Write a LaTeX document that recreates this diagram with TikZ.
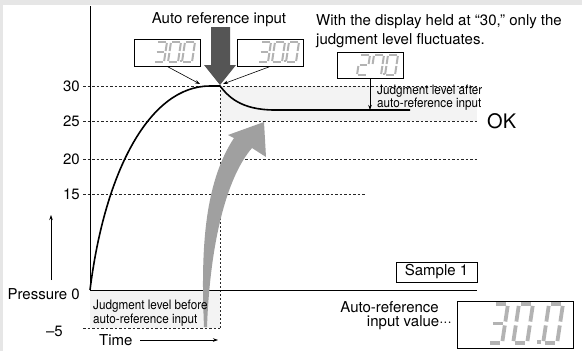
\documentclass[tikz,border=0pt]{standalone}
\usepackage{fontspec}
\setmainfont{TeX Gyre Heros}
\newfontfamily\narrowfont{TeX Gyre Heros}[FakeStretch=0.9]
\usetikzlibrary{arrows.meta}
\definecolor{segcol}{HTML}{B3B3B3}
\definecolor{bandgray}{HTML}{F3F3F3}
\definecolor{framegray}{HTML}{E6E6E6}
\definecolor{bigarrow}{HTML}{555555}
\definecolor{curvearrow}{HTML}{A0A0A0}
\tikzset{
  segline/.style={draw=segcol, line cap=butt},
  levelline/.style={line width=0.8pt, dash pattern=on 2.5pt off 2pt, black!85},
  dotline/.style={line width=0.8pt, dash pattern=on 2pt off 2pt, black!85},
  dispbox/.style={draw, line width=0.7pt, fill=white, minimum width=66pt, minimum height=27pt, inner sep=0pt},
  lbl/.style={font=\fontsize{15}{18}\selectfont, inner sep=0pt},
  smalllbl/.style={font=\narrowfont\fontsize{13}{15}\selectfont, inner sep=0pt},
  thinarrow/.style={line width=0.6pt, -{Stealth[length=5pt,width=3.5pt]}},
}
\newcommand\sgA{\draw[segline] (0.12,0) -- (0.88,0);}
\newcommand\sgB{\draw[segline] (1,0.1) -- (1,0.9);}
\newcommand\sgC{\draw[segline] (1,1.1) -- (1,1.9);}
\newcommand\sgD{\draw[segline] (0.12,2) -- (0.88,2);}
\newcommand\sgE{\draw[segline] (0,1.1) -- (0,1.9);}
\newcommand\sgF{\draw[segline] (0,0.1) -- (0,0.9);}
\newcommand\sgG{\draw[segline] (0.12,1) -- (0.88,1);}
% x, ytop, xunit, yunit, linewidth, segments
\newcommand\sevdigit[6]{%
  \begin{scope}[shift={(#1,#2)}, x=#3pt, y=-#4pt, xslant=0.15, line width=#5pt]
    \foreach \s in {#6} {\csname sg\s\endcsname}
  \end{scope}}
\begin{document}
\begin{tikzpicture}[x=1pt,y=-1pt]
\useasboundingbox (0,0) rectangle (582,351);
\fill[framegray] (0,0) rectangle (582,351);
\fill[white] (3,5) rectangle (582,351);

% shaded bands
\fill[bandgray] (220,86) rectangle (477,121);
\fill[bandgray] (90,290) rectangle (220,328);

% level lines
\draw[levelline] (83,86) -- (477,86);
\draw[levelline] (83,121) -- (477,121);
\draw[levelline] (83,159) -- (477,159);
\draw[levelline] (83,194) -- (365,194);
\draw[levelline] (83,328) -- (220,328);
\draw[dotline] (220,86) -- (220,328);

% axes
\draw[line width=0.9pt] (90,6) -- (90,290) -- (477,290);

% level labels
\node[lbl, anchor=east] (l30) at (80,86) {30};
\node[lbl, anchor=east] (l25) at (80,121) {25};
\node[lbl, anchor=east] (l20) at (80,159) {20};
\node[lbl, anchor=east] (l15) at (80,194) {15};
\node[lbl, anchor=east] (l0) at (80,294) {Pressure 0};
\node[lbl, anchor=east] (lm5) at (63,331) {–5};
\node[lbl, anchor=west] (time) at (99,340) {Time};

% axis direction arrows
\coordinate (pbot) at (51,280);
\coordinate (ptop) at (51,215);
\draw[thinarrow] (pbot) -- (ptop);
\coordinate (tstart) at (140,340);
\coordinate (tend) at (218,340);
\draw[thinarrow] (tstart) -- (tend);

% pressure curve
\coordinate (origin) at (90,290);
\coordinate (peak) at (220,86);
\coordinate (after) at (370,110);
\draw[line width=1.6pt] (origin) .. controls (105,170) and (150,86) .. (210,86) -- (peak)
  .. controls (228,96) and (240,110) .. (275,110) -- (410,110);

% big curved grey arrow
\fill[curvearrow] (204,327) .. controls (201,255) and (203,185) .. (234,138)
  -- (228,135) -- (264,122) -- (266,157) -- (252,148)
  .. controls (226,178) and (210,245) .. (207,327) -- cycle;

% dark downward arrow
\fill[bigarrow] (211,27) -- (230,27) -- (230,65) -- (236,65) -- (220,85) -- (204,65) -- (211,65) -- cycle;
\node[lbl, anchor=base] (autoin) at (219,23) {Auto reference input};

% top displays
\node[dispbox] (dispL) at (167,52.5) {};
\node[dispbox] (dispR) at (270.5,52.5) {};
\node[dispbox, minimum height=26pt] (disp27) at (370,65) {};
\sevdigit{157}{42}{10}{10}{2}{A,B,C,D,G}
\sevdigit{171}{42}{10}{10}{2}{A,B,C,D,E,F}
\fill[segcol] (179.5,60) rectangle (181.5,62);
\sevdigit{185}{42}{10}{10}{2}{A,B,C,D,E,F}

\sevdigit{261}{42}{10}{10}{2}{A,B,C,D,G}
\sevdigit{275}{42}{10}{10}{2}{A,B,C,D,E,F}
\fill[segcol] (283.5,60) rectangle (285.5,62);
\sevdigit{289}{42}{10}{10}{2}{A,B,C,D,E,F}

\sevdigit{360}{55}{10}{10}{2}{A,B,G,E,D}
\sevdigit{374}{55}{10}{10}{2}{A,B,C,F}
\fill[segcol] (382.5,73) rectangle (384.5,75);
\sevdigit{388}{55}{10}{10}{2}{A,B,C,D,E,F}

\coordinate (peakL) at (200,84);
\coordinate (peakR) at (223,84);
\draw[thinarrow] (dispL.south) -- (peakL);
\draw[thinarrow] (dispR.south) -- (peakR);
\draw[thinarrow] (disp27.south) -- (after);

% notes
\node[lbl, anchor=base west] (note1) at (316,25) {With the display held at “30,” only the};
\node[lbl, anchor=base west] (note2) at (316,44) {judgment level fluctuates.};
\node[smalllbl, anchor=base west] (aft1) at (377,94.5) {Judgment level after};
\node[smalllbl, anchor=base west] (aft2) at (377,107.5) {auto-reference input};
\node[smalllbl, anchor=base west] (bef1) at (93,309) {Judgment level before};
\node[smalllbl, anchor=base west] (bef2) at (93,323) {auto-reference input};
\node[font=\fontsize{20}{22}\selectfont, inner sep=0pt, anchor=west] (ok) at (487,121) {OK};

% sample box
\node[lbl, draw, line width=0.7pt, minimum width=81pt, minimum height=20pt] (sample) at (436.5,272) {Sample 1};

% bottom display
\node[lbl, anchor=east] (arv1) at (439,307) {Auto-reference};
\node[lbl, anchor=east] (arv2) at (452,323) {input value···};
\node[draw, line width=0.7pt, minimum width=116pt, minimum height=47pt, inner sep=0pt] (dispbig) at (515,324.5) {};
\sevdigit{494}{304}{14}{19.5}{3.8}{A,B,C,D,G}
\sevdigit{519}{304}{14}{19.5}{3.8}{A,B,C,D,E,F}
\fill[segcol] (536.5,340) rectangle (540.5,344);
\sevdigit{549}{304}{14}{19.5}{3.8}{A,B,C,D,E,F}
\end{tikzpicture}
\end{document}
